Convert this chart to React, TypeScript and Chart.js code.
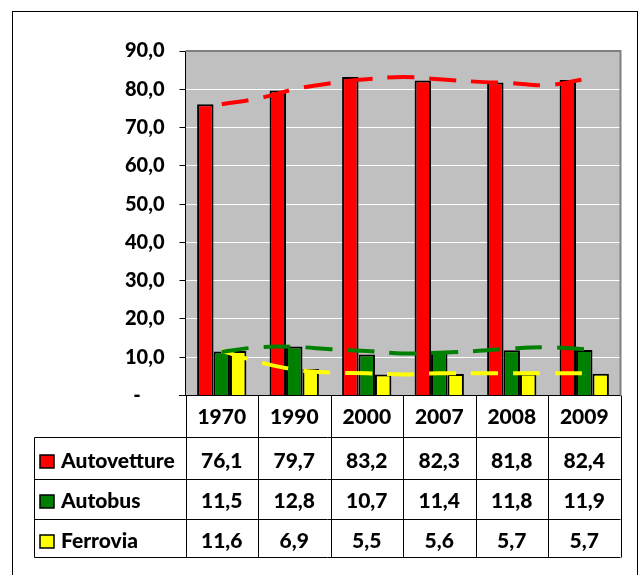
import React, { useEffect, useRef } from "react";
import { Chart, registerables } from "chart.js";

Chart.register(...registerables);

const categories = ["1970", "1990", "2000", "2007", "2008", "2009"];
const seriesNames = ["Autovetture", "Autobus", "Ferrovia"];
const autovetture = [76.1, 79.7, 83.2, 82.3, 81.8, 82.4];
const autobus = [11.5, 12.8, 10.7, 11.4, 11.8, 11.9];
const ferrovia = [11.6, 6.9, 5.5, 5.6, 5.7, 5.7];

// trendline readings (category index position -> value)
const trendPositions = [0, 0.5, 1, 1.5, 2, 2.5, 3, 3.5, 4, 4.5, 5];
const trendAutovetture = [76.1, 77.6, 80.0, 81.6, 82.6, 83.2, 82.6, 82.0, 81.6, 81.1, 82.6];
const trendAutobus = [11.4, 12.6, 12.7, 12.1, 11.6, 11.0, 11.2, 11.6, 12.3, 12.6, 12.1];
const trendFerrovia = [11.7, 8.8, 6.8, 6.0, 5.8, 5.5, 5.8, 5.8, 5.8, 5.8, 5.8];

const yMin = 0;
const yMax = 90;
const yStep = 10;

const COLORS = ["#FF0000", "#008000", "#FFFF00"];
const FONT = "Lato";
const WEIGHT = "900";

const fmt = (v: number) => v.toFixed(1).replace(".", ",");

const LAYOUT = { padding: { left: 0, right: 20.5, top: 51, bottom: 179.5 } };
const Y_WIDTH = 185.5;

const framePlugin = {
  id: "frame",
  beforeDraw(chart: any) {
    const { ctx, chartArea } = chart;
    ctx.save();
    ctx.fillStyle = "#FFFFFF";
    ctx.fillRect(0, 0, chart.width, chart.height);
    ctx.strokeStyle = "#000000";
    ctx.lineWidth = 1;
    ctx.strokeRect(12.5, 11.5, 625, 700);
    ctx.fillStyle = "#C0C0C0";
    ctx.fillRect(chartArea.left, chartArea.top, chartArea.right - chartArea.left, chartArea.bottom - chartArea.top);
    ctx.restore();
  },
  beforeDatasetsDraw(chart: any) {
    const { ctx, chartArea } = chart;
    ctx.save();
    ctx.strokeStyle = "#808080";
    ctx.lineWidth = 2;
    ctx.beginPath();
    ctx.moveTo(chartArea.left, chartArea.top);
    ctx.lineTo(chartArea.right, chartArea.top);
    ctx.lineTo(chartArea.right, chartArea.bottom);
    ctx.stroke();
    ctx.restore();
  },
  afterDraw(chart: any) {
    const { ctx, chartArea } = chart;
    const xs = chart.scales.x;
    const n = categories.length;
    const colW = (chartArea.right - chartArea.left) / n;
    const top = chartArea.bottom;
    const headerBottom = 437.5;
    const rowLines = [479.5, 519.5, 557.5];
    const legendLeft = 34.5;
    const right = chartArea.right;
    ctx.save();
    ctx.strokeStyle = "#000000";
    ctx.lineWidth = 1;
    ctx.beginPath();
    ctx.moveTo(179, top);
    ctx.lineTo(right, top);
    ctx.moveTo(legendLeft, headerBottom);
    ctx.lineTo(right, headerBottom);
    rowLines.forEach((y) => {
      ctx.moveTo(legendLeft, y);
      ctx.lineTo(right, y);
    });
    for (let i = 0; i <= n; i++) {
      const x = Math.round(chartArea.left + i * colW) + 0.5;
      ctx.moveTo(x, top);
      ctx.lineTo(x, rowLines[rowLines.length - 1]);
    }
    ctx.moveTo(legendLeft, headerBottom);
    ctx.lineTo(legendLeft, rowLines[rowLines.length - 1]);
    ctx.stroke();

    ctx.fillStyle = "#000000";
    ctx.font = `${WEIGHT} 21px ${FONT}`;
    ctx.textAlign = "center";
    ctx.textBaseline = "alphabetic";
    const headerBase = 424;
    categories.forEach((c, i) => {
      ctx.fillText(c, xs.getPixelForValue(i), headerBase);
    });
    const rowBases = [468, 508, 548];
    const rows = [autovetture, autobus, ferrovia];
    rows.forEach((vals, r) => {
      vals.forEach((v, i) => {
        ctx.fillText(fmt(v), xs.getPixelForValue(i), rowBases[r]);
      });
      ctx.fillStyle = COLORS[r];
      ctx.fillRect(40, rowBases[r] - 13, 14, 13);
      ctx.strokeStyle = "#000000";
      ctx.lineWidth = 1.5;
      ctx.strokeRect(40, rowBases[r] - 13, 14, 13);
      ctx.fillStyle = "#000000";
      ctx.textAlign = "left";
      ctx.fillText(seriesNames[r], 61, rowBases[r]);
      ctx.textAlign = "center";
    });
    ctx.restore();
  },
};

const trend = (vals: number[]) => trendPositions.map((x, i) => ({ x, y: vals[i] }));

export default function App() {
  const barRef = useRef<HTMLCanvasElement | null>(null);
  const lineRef = useRef<HTMLCanvasElement | null>(null);
  useEffect(() => {
    if (!barRef.current || !lineRef.current) return;
    const barBase = {
      borderColor: "#000000",
      borderWidth: 2,
      categoryPercentage: 0.68,
      barPercentage: 1.0,
    };
    const barChart = new Chart(barRef.current, {
      type: "bar",
      data: {
        labels: categories,
        datasets: [
          { ...barBase, label: seriesNames[0], data: autovetture, backgroundColor: COLORS[0] },
          { ...barBase, label: seriesNames[1], data: autobus, backgroundColor: COLORS[1] },
          { ...barBase, label: seriesNames[2], data: ferrovia, backgroundColor: COLORS[2] },
        ],
      },
      options: {
        responsive: false,
        animation: false,
        devicePixelRatio: 1,
        layout: LAYOUT,
        plugins: { legend: { display: false }, tooltip: { enabled: false } },
        scales: {
          x: { display: false, offset: true },
          y: {
            min: yMin,
            max: yMax,
            afterFit: (s: any) => {
              s.width = Y_WIDTH;
            },
            ticks: {
              stepSize: yStep,
              padding: 15,
              color: "#000000",
              font: { family: FONT, size: 20, weight: WEIGHT },
              callback: (v: any) => (Number(v) === 0 ? "-     " : fmt(Number(v))),
            },
            grid: {
              color: "#FFFFFF",
              lineWidth: 1,
              tickLength: 6,
              tickColor: "#000000",
            },
            border: { color: "#000000", width: 1 },
          },
        },
      } as any,
      plugins: [framePlugin],
    });

    const lineBase = {
      pointRadius: 0,
      borderWidth: 4,
      borderDash: [27, 15],
      borderCapStyle: "butt" as const,
      tension: 0.4,
      fill: false,
    };
    const lineChart = new Chart(lineRef.current, {
      type: "line",
      data: {
        datasets: [
          { ...lineBase, label: "Tendenza Autovetture", data: trend(trendAutovetture), borderColor: COLORS[0] },
          { ...lineBase, label: "Tendenza Autobus", data: trend(trendAutobus), borderColor: COLORS[1] },
          { ...lineBase, label: "Tendenza Ferrovia", data: trend(trendFerrovia), borderColor: COLORS[2] },
        ],
      },
      options: {
        responsive: false,
        animation: false,
        devicePixelRatio: 1,
        layout: LAYOUT,
        plugins: { legend: { display: false }, tooltip: { enabled: false } },
        scales: {
          x: { type: "linear", display: false, min: -0.5, max: 5.5 },
          y: {
            min: yMin,
            max: yMax,
            afterFit: (s: any) => {
              s.width = Y_WIDTH;
            },
            ticks: {
              stepSize: yStep,
              padding: 15,
              color: "rgba(0,0,0,0)",
              font: { family: FONT, size: 20, weight: WEIGHT },
            },
            grid: { display: false },
            border: { display: false },
          },
        },
      } as any,
    });
    return () => {
      barChart.destroy();
      lineChart.destroy();
    };
  }, []);
  return (
    <div style={{ position: "absolute", left: 0, top: 0, width: 641, height: 575 }}>
      <canvas ref={barRef} width={641} height={575} style={{ display: "block", position: "absolute", left: 0, top: 0 }} />
      <canvas
        ref={lineRef}
        width={641}
        height={575}
        style={{ display: "block", position: "absolute", left: 0, top: 0, pointerEvents: "none" }}
      />
    </div>
  );
}
